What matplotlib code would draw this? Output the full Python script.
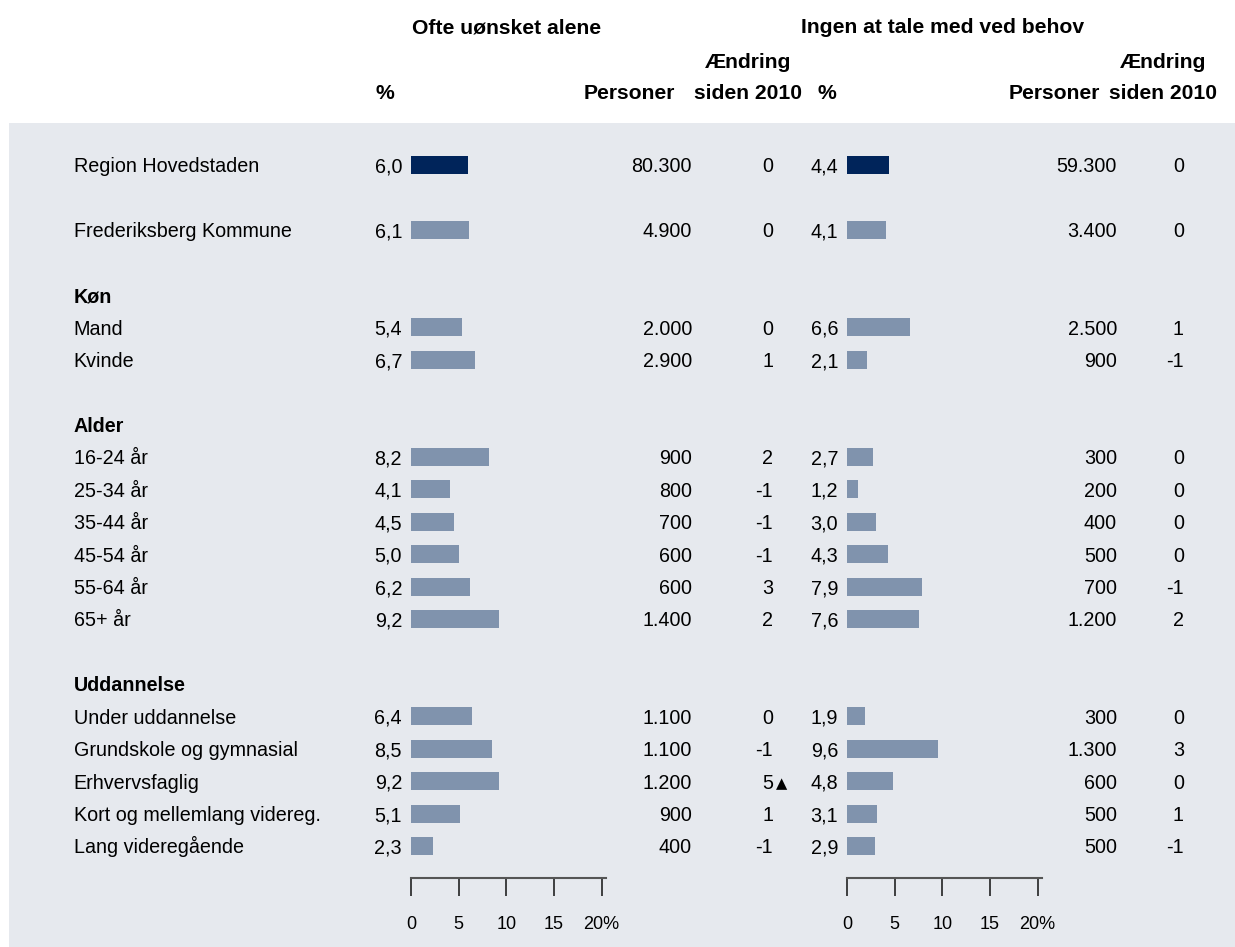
import matplotlib.pyplot as plt
from matplotlib.patches import Rectangle

plt.rcParams['font.family'] = ['Liberation Sans', 'DejaVu Sans']

# rows of the table
row_labels = ["Region Hovedstaden", "Frederiksberg Kommune",
              "Mand", "Kvinde",
              "16-24 år", "25-34 år", "35-44 år", "45-54 år", "55-64 år", "65+ år",
              "Under uddannelse", "Grundskole og gymnasial", "Erhvervsfaglig",
              "Kort og mellemlang videreg.", "Lang videregående"]
row_slots = [0, 2, 5, 6, 9, 10, 11, 12, 13, 14, 17, 18, 19, 20, 21]
group_labels = ["Køn", "Alder", "Uddannelse"]
group_slots = [4, 8, 16]

# "Ofte uønsket alene"
alone_pct = [6.0, 6.1, 5.4, 6.7, 8.2, 4.1, 4.5, 5.0, 6.2, 9.2, 6.4, 8.5, 9.2, 5.1, 2.3]
alone_persons = [80300, 4900, 2000, 2900, 900, 800, 700, 600, 600, 1400, 1100, 1100, 1200, 900, 400]
alone_change = [0, 0, 0, 1, 2, -1, -1, -1, 3, 2, 0, -1, 5, 1, -1]
alone_sig = [False] * 12 + [True] + [False] * 2

# "Ingen at tale med ved behov"
talk_pct = [4.4, 4.1, 6.6, 2.1, 2.7, 1.2, 3.0, 4.3, 7.9, 7.6, 1.9, 9.6, 4.8, 3.1, 2.9]
talk_persons = [59300, 3400, 2500, 900, 300, 200, 400, 500, 700, 1200, 300, 1300, 600, 500, 500]
talk_change = [0, 0, 1, -1, 0, 0, 0, 0, -1, 2, 0, 3, 0, 1, -1]
talk_sig = [False] * 15

tick_values = [0, 5, 10, 15, 20]
tick_labels = ["0", "5", "10", "15", "20%"]

NAVY = '#00245a'
GREY = '#8093ad'
BG = '#e6e9ee'
FS = 14.2
FS_HEAD = 15.2

W, H = 1235, 947
ROW0, ROWH = 165, 32.43     # pixel centre of first row, row pitch
PX_PER_PCT = 9.53
YLIM = ((H - ROW0) / ROWH, -ROW0 / ROWH)
BASE = 0.23                 # baseline offset of a row's text below its centre


def fmt_pct(v):
    return f"{v:.1f}".replace(".", ",")


def fmt_int(n):
    return f"{n:,}".replace(",", ".")


fig = plt.figure(figsize=(W / 100, H / 100), dpi=100)
ax = fig.add_axes([0, 0, 1, 1])
ax.set_xlim(0, W)
ax.set_ylim(*YLIM)
ax.axis('off')
ax.add_patch(Rectangle((9, -1.3), W - 9, YLIM[0] + 1.3, color=BG, lw=0))

# row labels
for lab, s in zip(row_labels, row_slots):
    ax.text(73.5, s + BASE, lab, fontsize=FS, ha='left', va='baseline')
for lab, s in zip(group_labels, group_slots):
    ax.text(73.5, s + BASE, lab, fontsize=FS, fontweight='bold', ha='left', va='baseline')


def panel(bar_left, title, pct, persons, change, sig, x_pct_head, x_pct, x_pers, x_chg, x_chg_head):
    axb = fig.add_axes([bar_left / W, 0, 20.5 * PX_PER_PCT / W, 1])
    axb.set_xlim(0, 20.5)
    axb.set_ylim(*YLIM)
    axb.patch.set_alpha(0)
    colors = [NAVY] + [GREY] * (len(pct) - 1)
    axb.barh(row_slots, pct, height=0.555, color=colors)

    for side in ['top', 'left', 'right']:
        axb.spines[side].set_visible(False)
    axb.spines['bottom'].set_position(('data', 22.0))
    axb.spines['bottom'].set_color('#555555')
    axb.spines['bottom'].set_linewidth(1.5)
    axb.set_yticks([])
    axb.set_xticks(tick_values, tick_labels)
    axb.tick_params(axis='x', direction='out', length=13.2, width=1.2,
                    color='#222222', pad=13.5, labelsize=13)

    # headers
    centre = bar_left + 10 * PX_PER_PCT
    ax.text(centre, -4.06, title, fontsize=FS_HEAD, fontweight='bold', ha='center', va='baseline')
    ax.text(x_pct_head, -2.05, "%", fontsize=FS_HEAD, fontweight='bold', ha='left', va='baseline')
    ax.text(x_pers - 17, -2.05, "Personer", fontsize=FS_HEAD, fontweight='bold', ha='right', va='baseline')
    ax.text(x_chg_head, -3.0, "Ændring", fontsize=FS_HEAD, fontweight='bold', ha='center', va='baseline')
    ax.text(x_chg_head, -2.05, "siden 2010", fontsize=FS_HEAD, fontweight='bold', ha='center', va='baseline')

    # value columns
    for s, p, n, c, flag in zip(row_slots, pct, persons, change, sig):
        ax.text(x_pct, s + BASE, fmt_pct(p), fontsize=FS, ha='right', va='baseline')
        ax.text(x_pers, s + BASE, fmt_int(n), fontsize=FS, ha='right', va='baseline')
        ax.text(x_chg, s + BASE, str(c), fontsize=FS, ha='right', va='baseline')
        if flag:
            ax.text(x_chg + 3, s + BASE, "▲", fontsize=10.5, family='DejaVu Sans',
                    ha='left', va='baseline')


panel(411, "Ofte uønsket alene", alone_pct, alone_persons, alone_change, alone_sig,
      x_pct_head=376, x_pct=402, x_pers=692, x_chg=773, x_chg_head=748)
panel(847, "Ingen at tale med ved behov", talk_pct, talk_persons, talk_change, talk_sig,
      x_pct_head=817, x_pct=838, x_pers=1117, x_chg=1184, x_chg_head=1163)

fig.savefig('out.png', dpi=100)
